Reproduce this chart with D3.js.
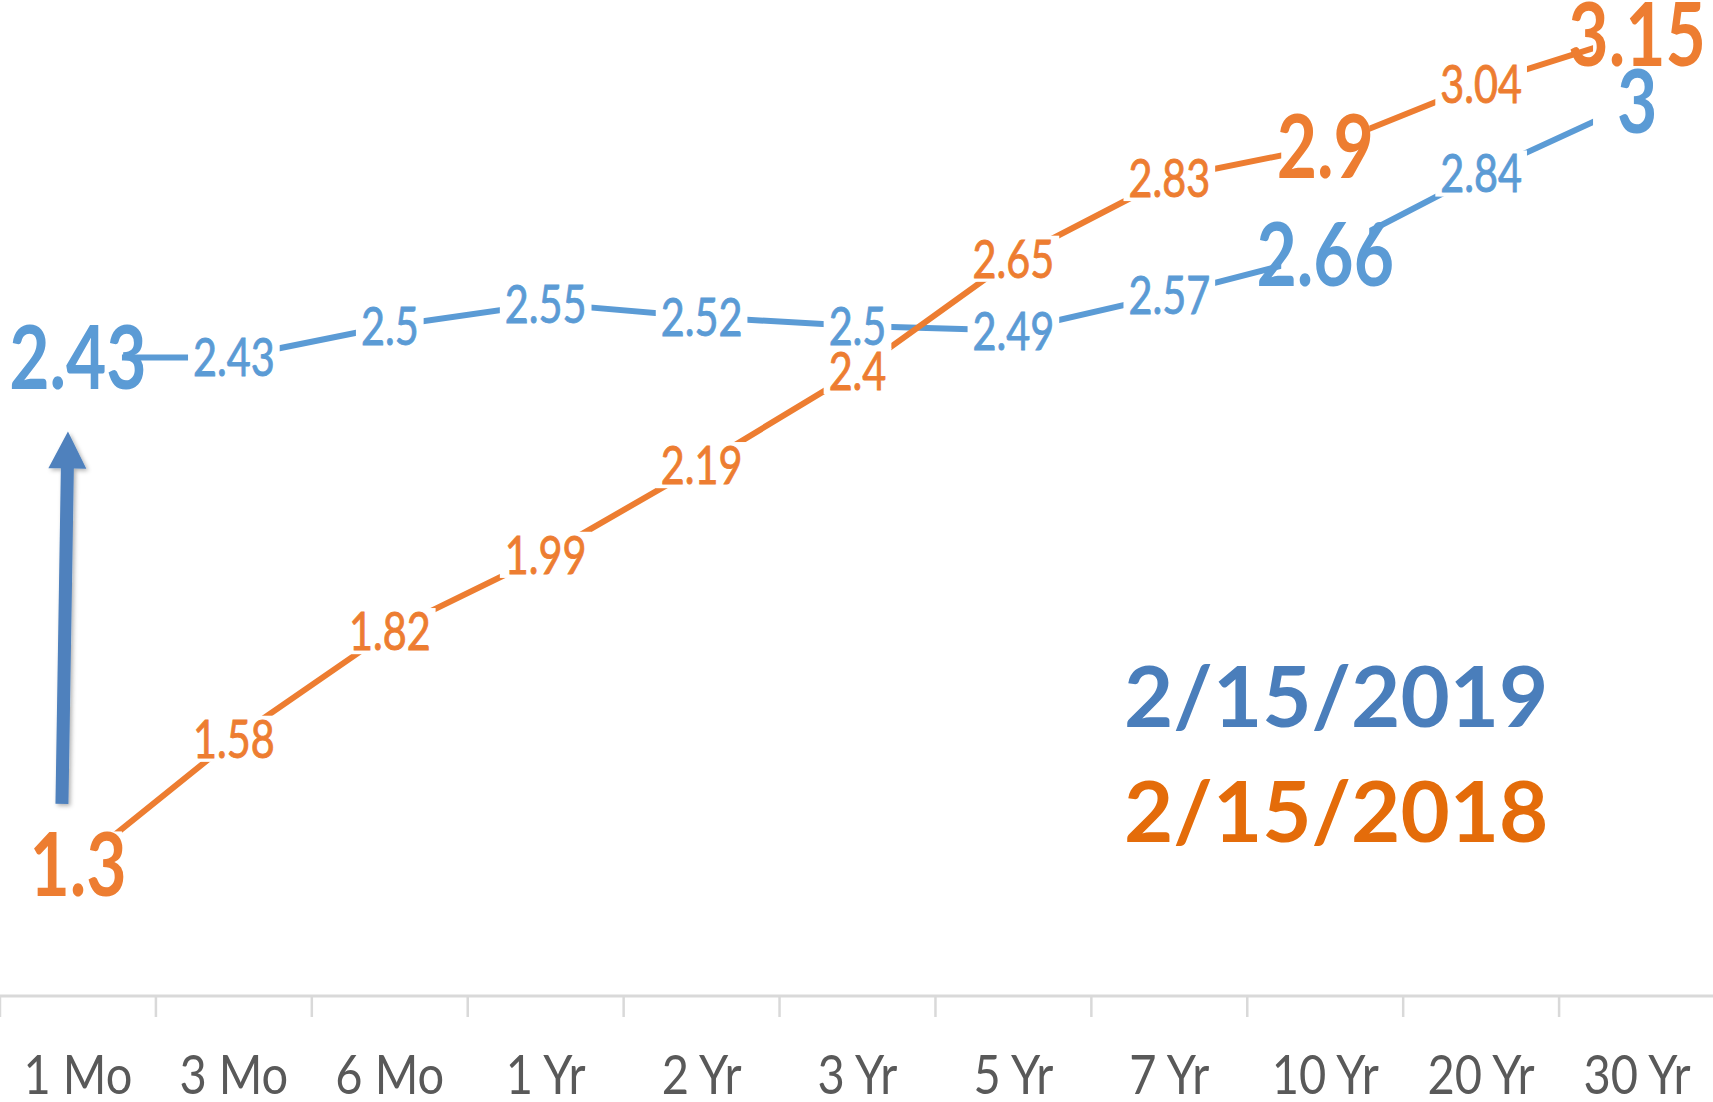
<!DOCTYPE html>
<html>
<head>
<meta charset="utf-8">
<script src="https://cdn.jsdelivr.net/npm/d3@7"></script>
<style>
  html, body { margin: 0; padding: 0; background: #fff; overflow: hidden; }
  text { font-family: Lato, "Open Sans", sans-serif; }
</style>
</head>
<body>
<svg id="chart" width="1713" height="1102"></svg>
<script>
// Treasury yield curve: maturities and yields (%) on two dates
const maturities = ["1 Mo", "3 Mo", "6 Mo", "1 Yr", "2 Yr", "3 Yr", "5 Yr", "7 Yr", "10 Yr", "20 Yr", "30 Yr"];
const yields2019 = [2.43, 2.43, 2.5, 2.55, 2.52, 2.5, 2.49, 2.57, 2.66, 2.84, 3];
const yields2018 = [1.3, 1.58, 1.82, 1.99, 2.19, 2.4, 2.65, 2.83, 2.9, 3.04, 3.15];
const seriesNames = ["2/15/2019", "2/15/2018"];
// maturities whose labels are shown large
const emphasized = ["1 Mo", "10 Yr", "30 Yr"];
// arrow at the 1-month point showing the rise from 2018 to 2019 (in yield units)
const arrowFrom = 1.435, arrowTo = 2.265;

const W = 1713, H = 1102;
const axisY = 996;
const colors = { line2019: "#5B9BD5", line2018: "#ED7D31", legend2019: "#4A7EBB", legend2018: "#E46C0A", arrow: "#4F81BD" };

const svg = d3.select("#chart");

const defs = svg.append("defs");
const shadow = defs.append("filter").attr("id", "arrowShadow")
  .attr("x", "-50%").attr("y", "-10%").attr("width", "200%").attr("height", "120%");
shadow.append("feDropShadow").attr("dx", 2).attr("dy", 2).attr("stdDeviation", 2)
  .attr("flood-color", "#000").attr("flood-opacity", 0.3);

const x = d3.scaleBand().domain(maturities).range([0, 1715]).padding(0);
const y = d3.scaleLinear().domain([1, 3.2]).range([999, 12]);
const cx = m => x(m) + x.bandwidth() / 2;

const series = [
  { name: seriesNames[0], values: yields2019, color: colors.line2019 },
  { name: seriesNames[1], values: yields2018, color: colors.line2018 }
];

// category axis: baseline, tick marks between categories, labels
const axisG = svg.append("g").attr("transform", `translate(0,${axisY})`);
axisG.append("line").attr("x1", 0).attr("x2", W).attr("y1", 0).attr("y2", 0)
  .attr("stroke", "#d9d9d9").attr("stroke-width", 3);
axisG.selectAll("line.tick").data(maturities).join("line")
  .attr("class", "tick")
  .attr("x1", d => x(d)).attr("x2", d => x(d))
  .attr("y1", 0).attr("y2", 21)
  .attr("stroke", "#d9d9d9").attr("stroke-width", 2.5);

const xAxis = d3.axisBottom(x).tickSize(0).tickPadding(0);
const axisLabels = svg.append("g").attr("transform", `translate(0,${axisY})`).call(xAxis);
axisLabels.select(".domain").remove();
axisLabels.selectAll(".tick text")
  .attr("y", 98).attr("dy", null)
  .attr("transform", "scale(0.87,1)")
  .style("font-family", "Lato, sans-serif")
  .style("font-size", "54px")
  .attr("fill", "#595959");

// lines
const line = d3.line().x((d, i) => cx(maturities[i])).y(d => y(d));
svg.append("g").selectAll("path").data(series).join("path")
  .attr("d", d => line(d.values))
  .attr("fill", "none")
  .attr("stroke", d => d.color)
  .attr("stroke-width", 6)
  .attr("stroke-linejoin", "round");

// data labels (white box behind, centred on the point)
const labelLayer = svg.append("g");
series.forEach(s => {
  s.values.forEach((v, i) => {
    const m = maturities[i];
    const big = emphasized.includes(m);
    const fs = big ? 88 : 53;
    const sx = big ? 0.79 : 0.78;
    const g = labelLayer.append("g").attr("transform", `translate(${cx(m)},${y(v)})`);
    const inner = g.append("g").attr("transform", `scale(${sx},1)`);
    const rect = inner.append("rect").attr("fill", "#fff");
    const t = inner.append("text")
      .attr("text-anchor", "middle")
      .attr("y", 0.358 * fs)
      .attr("font-size", fs)
      .attr("font-weight", big ? 700 : 400)
      .attr("fill", s.color)
      .attr("stroke", big ? "none" : s.color)
      .attr("stroke-width", big ? 0 : 0.9)
      .text(String(v));
    const bb = t.node().getBBox();
    if (big) {
      const hw = 44 / sx, hh = 33;
      rect.attr("x", -hw).attr("y", -hh).attr("width", 2 * hw).attr("height", 2 * hh);
    } else {
      const px = 5 / sx, py = 4;
      const top = -0.36 * fs - py, bottom = 0.36 * fs + py;
      rect.attr("x", bb.x - px).attr("y", top).attr("width", bb.width + 2 * px).attr("height", bottom - top);
    }
  });
});

// arrow from the 2018 to the 2019 1-month yield
{
  const c = cx(maturities[0]);
  const x0 = c - 16, y0 = y(arrowFrom);
  const x1 = c - 10, y1 = y(arrowTo);
  const dx = x1 - x0, dy = y1 - y0, len = Math.hypot(dx, dy);
  const ux = dx / len, uy = dy / len, nx = -uy, ny = ux;
  const headLen = 37, headHalf = 19, shaftHalf = 6.5;
  const bx = x1 - ux * headLen, by = y1 - uy * headLen;
  const pts = [
    [x0 + nx * shaftHalf, y0 + ny * shaftHalf],
    [bx + nx * shaftHalf, by + ny * shaftHalf],
    [bx + nx * headHalf, by + ny * headHalf],
    [x1, y1],
    [bx - nx * headHalf, by - ny * headHalf],
    [bx - nx * shaftHalf, by - ny * shaftHalf],
    [x0 - nx * shaftHalf, y0 - ny * shaftHalf]
  ];
  svg.append("path")
    .attr("d", "M" + pts.map(p => p.join(",")).join("L") + "Z")
    .attr("fill", colors.arrow)
    .attr("filter", "url(#arrowShadow)");
}

// legend
const legend = svg.append("g").attr("transform", "translate(1124,0)");
legend.selectAll("text").data([
  { name: seriesNames[0], color: colors.legend2019, base: 727 },
  { name: seriesNames[1], color: colors.legend2018, base: 842 }
]).join("text")
  .attr("x", 0).attr("y", d => d.base)
  .attr("font-size", 85).attr("font-weight", 700)
  .attr("fill", d => d.color)
  .text(d => d.name);
</script>
</body>
</html>
